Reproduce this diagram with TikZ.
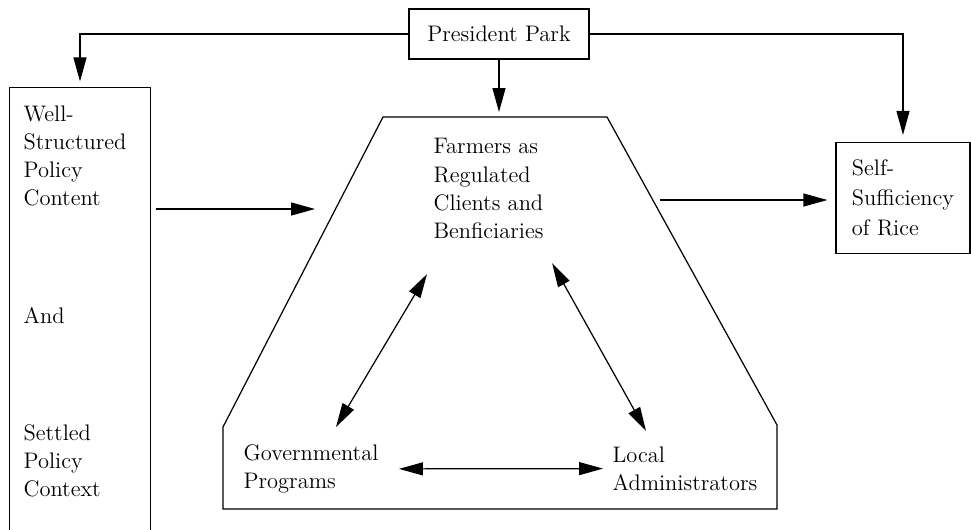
\documentclass[tikz,border=0pt]{standalone}
\usetikzlibrary{arrows.meta,positioning}

\begin{document}
\begin{tikzpicture}[x=0.02cm,y=-0.02cm,line width=0.7pt,
    font=\fontsize{12.8}{16}\selectfont]

\tikzset{
    txt/.style={inner sep=0pt,align=left,anchor=north west},
    arr/.style={-{Triangle[length=0.48cm,width=0.26cm]}},
    darr/.style={{Triangle[length=0.48cm,width=0.26cm]}-{Triangle[length=0.48cm,width=0.26cm]}}}

\useasboundingbox (0,0) rectangle (971,529);

\node[draw, minimum width=3.6cm, minimum height=1cm] (pres) at (499,34) {President Park};

% left column, open at the bottom
\node[minimum width=2.8cm, minimum height=8.82cm] (policy) at (80,308.5) {};
\draw (policy.south west) |- (policy.north east) -- (policy.south east);

\node[txt] (content) at (23,105) {Well-\\Structured\\Policy\\Content};
\node[txt] (and) at (23,307) {And};
\node[txt] (context) at (23,424) {Settled\\Policy\\Context};

% the arena
\coordinate (A1) at (383,117);
\coordinate (A2) at (607,117);
\coordinate (A3) at (777,425);
\coordinate (A4) at (777,509);
\coordinate (A5) at (223,509);
\coordinate (A6) at (223,427);
\draw (A1) -- (A2) -- (A3) -- (A4) -- (A5) -- (A6) -- cycle;

\node[txt] (farmers) at (433,138) {Farmers as\\Regulated\\Clients and\\Benficiaries};
\node[txt] (gov) at (243,444) {Governmental\\Programs};
\node[txt] (local) at (612,446) {Local\\Administrators};

\node[draw, align=left, minimum width=2.68cm, minimum height=2.22cm,
    font=\fontsize{12.8}{17}\selectfont] (selfsuff) at (903,198) {Self-\\Sufficiency\\of Rice};

\coordinate (in) at (315,209);
\coordinate (out) at (660,200);

\draw[arr] (pres.west) -| ([yshift=0.12cm]policy.north);
\draw[arr] (pres.east) -| ([yshift=0.14cm]selfsuff.north);
\draw[arr] (pres.south) -- ([yshift=0.1cm]pres.south |- A1);

\draw[arr] ([xshift=0.1cm]policy.east |- in) -- (in);
\draw[arr] (out) -- ([xshift=-0.16cm]selfsuff.west |- out);

\draw[darr] ([shift={(-6,35)}]farmers.south west) -- ([shift={(25,-17)}]gov.north);
\draw[darr] ([shift={(8,24)}]farmers.south east) -- ([shift={(34,-15)}]local.north west);
\draw[darr] ([xshift=0.4cm]gov.east) -- ([xshift=-0.18cm]local.west);

\end{tikzpicture}
\end{document}
